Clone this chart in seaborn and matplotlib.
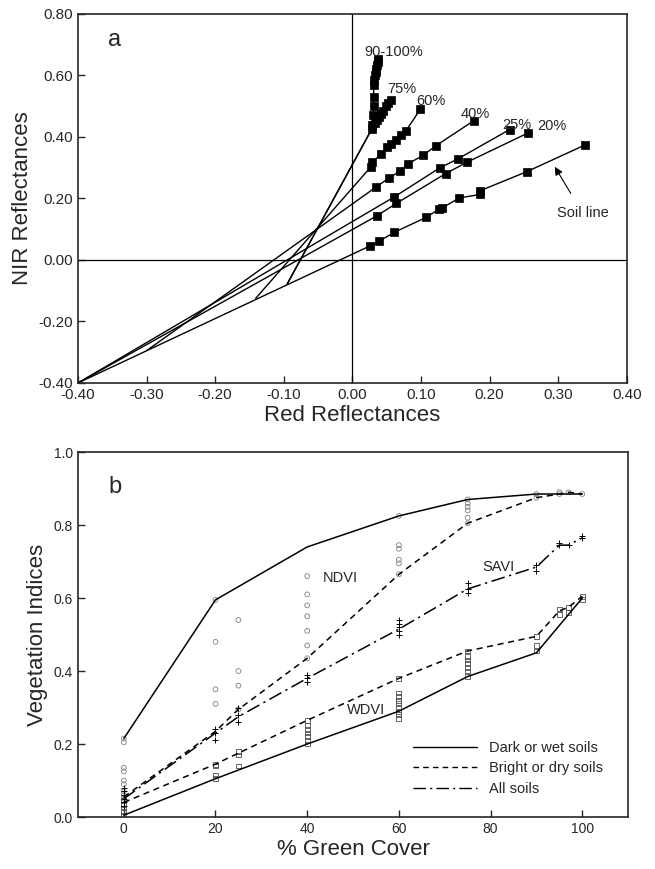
import matplotlib
matplotlib.use("Agg")
import matplotlib.pyplot as plt
from matplotlib.lines import Line2D
from matplotlib.ticker import FormatStrFormatter
import seaborn as sns

# ---------------- panel a: red vs NIR reflectance per green cover class
# each class: line starts where it meets the (extended) soil line
start_red = {"90-100%": -0.095, "75%": -0.095, "60%": -0.141, "40%": -0.300,
             "25%": -0.400, "20%": -0.400, "soil": -0.400}
start_nir = {"90-100%": -0.078, "75%": -0.078, "60%": -0.125, "40%": -0.295,
             "25%": -0.400, "20%": -0.400, "soil": -0.400}

red_90 = [0.028, 0.029, 0.030, 0.031, 0.031, 0.031, 0.032, 0.033, 0.034, 0.035, 0.036, 0.037, 0.038]
nir_90 = [0.425, 0.440, 0.470, 0.500, 0.530, 0.570, 0.585, 0.600, 0.610, 0.620, 0.635, 0.645, 0.655]

red_75 = [0.033, 0.036, 0.039, 0.042, 0.045, 0.049, 0.052, 0.056]
nir_75 = [0.445, 0.455, 0.465, 0.475, 0.485, 0.500, 0.510, 0.520]

red_60 = [0.027, 0.029, 0.042, 0.051, 0.056, 0.064, 0.071, 0.078, 0.099]
nir_60 = [0.303, 0.318, 0.345, 0.367, 0.377, 0.390, 0.406, 0.420, 0.490]

red_40 = [0.035, 0.054, 0.069, 0.081, 0.103, 0.122, 0.177]
nir_40 = [0.238, 0.268, 0.288, 0.313, 0.340, 0.372, 0.453]

red_25 = [0.061, 0.127, 0.154, 0.229]
nir_25 = [0.205, 0.299, 0.329, 0.424]

red_20 = [0.036, 0.064, 0.136, 0.167, 0.256]
nir_20 = [0.144, 0.184, 0.281, 0.318, 0.413]

red_soil = [0.025, 0.039, 0.061, 0.108, 0.126, 0.130, 0.156, 0.186, 0.186, 0.254, 0.339]
nir_soil = [0.045, 0.061, 0.090, 0.139, 0.165, 0.168, 0.202, 0.213, 0.225, 0.287, 0.374]

classes = {
    "90-100%": (red_90, nir_90),
    "75%": (red_75, nir_75),
    "60%": (red_60, nir_60),
    "40%": (red_40, nir_40),
    "25%": (red_25, nir_25),
    "20%": (red_20, nir_20),
    "soil": (red_soil, nir_soil),
}

# label anchors (left, middle) for the cover classes
class_labels = ["90-100%", "75%", "60%", "40%", "25%", "20%"]
label_red = [0.018, 0.051, 0.093, 0.158, 0.218, 0.269]
label_nir = [0.677, 0.555, 0.516, 0.474, 0.439, 0.435]

# ---------------- panel b: vegetation indices vs % green cover
cover_dark = [0, 20, 40, 60, 75, 90, 100]
ndvi_dark = [0.215, 0.595, 0.740, 0.825, 0.870, 0.885, 0.885]
wdvi_dark = [0.005, 0.105, 0.200, 0.290, 0.385, 0.450, 0.600]

cover_all = [0, 20, 25, 40, 60, 75, 90, 95, 97, 100]
ndvi_bright = [0.055, 0.235, 0.295, 0.435, 0.665, 0.805, 0.875, 0.885, 0.890, 0.885]
wdvi_bright = [0.040, 0.145, 0.175, 0.265, 0.380, 0.455, 0.495, 0.565, 0.575, 0.605]
savi_all = [0.050, 0.230, 0.275, 0.380, 0.515, 0.625, 0.685, 0.745, 0.745, 0.765]

# individual soil observations
ndvi_obs_x = [0, 0, 0, 0, 0, 0, 0, 0, 0, 20, 20, 20, 20, 25, 25, 25, 25,
              40, 40, 40, 40, 40, 40, 40, 60, 60, 60, 60, 60, 60,
              75, 75, 75, 75, 75, 75, 90, 90, 95, 95, 97, 100]
ndvi_obs_y = [0.215, 0.205, 0.135, 0.125, 0.100, 0.090, 0.070, 0.060, 0.050,
              0.595, 0.480, 0.350, 0.310, 0.540, 0.400, 0.360, 0.295,
              0.660, 0.610, 0.580, 0.550, 0.510, 0.470, 0.435,
              0.825, 0.745, 0.735, 0.705, 0.695, 0.665,
              0.870, 0.860, 0.850, 0.840, 0.820, 0.805, 0.885, 0.875, 0.890, 0.885, 0.890, 0.885]

savi_obs_x = [0, 0, 0, 0, 0, 0, 20, 20, 20, 25, 25, 25, 40, 40, 40,
              60, 60, 60, 60, 60, 75, 75, 75, 90, 90, 95, 95, 97, 100, 100]
savi_obs_y = [0.030, 0.040, 0.050, 0.060, 0.070, 0.080, 0.210, 0.230, 0.240,
              0.260, 0.280, 0.300, 0.370, 0.380, 0.390,
              0.500, 0.510, 0.520, 0.530, 0.540, 0.615, 0.625, 0.640,
              0.675, 0.690, 0.745, 0.750, 0.745, 0.765, 0.770]

wdvi_obs_x = [0, 0, 0, 0, 0, 20, 20, 20, 20, 25, 25, 25,
              40, 40, 40, 40, 40, 40, 40, 60, 60, 60, 60, 60, 60, 60, 60, 60,
              75, 75, 75, 75, 75, 75, 75, 90, 90, 90, 95, 95, 97, 97, 100, 100]
wdvi_obs_y = [0.005, 0.015, 0.025, 0.035, 0.045, 0.105, 0.115, 0.140, 0.145,
              0.140, 0.170, 0.180,
              0.200, 0.210, 0.220, 0.230, 0.240, 0.250, 0.265,
              0.270, 0.280, 0.290, 0.300, 0.310, 0.320, 0.330, 0.340, 0.380,
              0.385, 0.400, 0.410, 0.420, 0.430, 0.440, 0.455,
              0.455, 0.470, 0.495, 0.555, 0.570, 0.560, 0.575, 0.595, 0.605]

legend_labels = ["Dark or wet soils", "Bright or dry soils", "All soils"]

sns.set_style("ticks")
plt.rcParams["font.family"] = ["Liberation Sans", "DejaVu Sans"]

SOLID = "-"
DASHED = (0, (4, 3))
DASHDOT = (0, (9, 3, 1.5, 3))

fig = plt.figure(figsize=(6.55, 8.69), dpi=100)
ax_a = fig.add_axes([0.119, 0.5593, 0.838, 0.4246])
ax_b = fig.add_axes([0.119, 0.0598, 0.840, 0.420])

# ---- panel a
ax_a.axhline(0, color="black", lw=0.9)
ax_a.axvline(0, color="black", lw=0.9)
for key, (red, nir) in classes.items():
    xs = [start_red[key]] + red
    ys = [start_nir[key]] + nir
    sns.lineplot(x=xs, y=ys, sort=False, estimator=None, color="black",
                 lw=1.0, ax=ax_a)
    sns.scatterplot(x=red, y=nir, marker="s", s=26, color="black",
                    edgecolor="black", linewidth=0.5, ax=ax_a, zorder=3)

for lab, lx, ly in zip(class_labels, label_red, label_nir):
    ax_a.text(lx, ly, lab, fontsize=10.5, ha="left", va="center")
ax_a.annotate("Soil line", xy=(0.295, 0.303), xytext=(0.298, 0.152),
              fontsize=10.5, ha="left", va="center",
              arrowprops=dict(arrowstyle="-|>", color="black", lw=0.8,
                              shrinkA=8, shrinkB=0, mutation_scale=12))
ax_a.text(-0.356, 0.716, "a", fontsize=17, ha="left", va="center")

ax_a.set_xlim(-0.40, 0.40)
ax_a.set_ylim(-0.40, 0.80)
ax_a.set_xticks([-0.4, -0.3, -0.2, -0.1, 0.0, 0.1, 0.2, 0.3, 0.4])
ax_a.set_yticks([-0.4, -0.2, 0.0, 0.2, 0.4, 0.6, 0.8])
ax_a.xaxis.set_major_formatter(FormatStrFormatter("%.2f"))
ax_a.yaxis.set_major_formatter(FormatStrFormatter("%.2f"))
ax_a.set_xlabel("Red Reflectances", fontsize=16, labelpad=2)
ax_a.set_ylabel("NIR Reflectances", fontsize=16, labelpad=4)

# ---- panel b
sns.scatterplot(x=ndvi_obs_x, y=ndvi_obs_y, marker="o", s=12, facecolors="none",
                edgecolor="0.5", linewidth=0.6, ax=ax_b)
sns.scatterplot(x=wdvi_obs_x, y=wdvi_obs_y, marker="s", s=12, facecolors="none",
                edgecolor="0.3", linewidth=0.6, ax=ax_b)
sns.scatterplot(x=savi_obs_x, y=savi_obs_y, marker="+", s=14, color="black",
                linewidth=0.7, ax=ax_b)

sns.lineplot(x=cover_dark, y=ndvi_dark, estimator=None, color="black", lw=1.1,
             linestyle=SOLID, ax=ax_b)
sns.lineplot(x=cover_dark, y=wdvi_dark, estimator=None, color="black", lw=1.1,
             linestyle=SOLID, ax=ax_b)
sns.lineplot(x=cover_all, y=ndvi_bright, estimator=None, color="black", lw=1.1,
             linestyle=DASHED, ax=ax_b)
sns.lineplot(x=cover_all, y=wdvi_bright, estimator=None, color="black", lw=1.1,
             linestyle=DASHED, ax=ax_b)
sns.lineplot(x=cover_all, y=savi_all, estimator=None, color="black", lw=1.1,
             linestyle=DASHDOT, ax=ax_b)

ax_b.text(43.5, 0.655, "NDVI", fontsize=10.5, ha="left", va="center")
ax_b.text(78.3, 0.685, "SAVI", fontsize=10.5, ha="left", va="center")
ax_b.text(48.7, 0.293, "WDVI", fontsize=10.5, ha="left", va="center")
ax_b.text(-3.3, 0.904, "b", fontsize=17, ha="left", va="center")

handles = [Line2D([], [], color="black", lw=1.0, linestyle=s)
           for s in (SOLID, DASHED, DASHDOT)]
ax_b.legend(handles, legend_labels, loc="upper left", bbox_to_anchor=(0.585, 0.245),
            frameon=False, fontsize=10.5, handlelength=4.4, handletextpad=0.8,
            labelspacing=0.45)

ax_b.set_xlim(-10, 110)
ax_b.set_ylim(0, 1.0)
ax_b.set_xticks([0, 20, 40, 60, 80, 100])
ax_b.set_yticks([0.0, 0.2, 0.4, 0.6, 0.8, 1.0])
ax_b.yaxis.set_major_formatter(FormatStrFormatter("%.1f"))
ax_b.set_xlabel("% Green Cover", fontsize=16, labelpad=2)
ax_b.set_ylabel("Vegetation Indices", fontsize=16, labelpad=4)

for ax, fs in ((ax_a, 11), (ax_b, 10)):
    for side in ("top", "right", "left", "bottom"):
        ax.spines[side].set_visible(True)
        ax.spines[side].set_linewidth(1.2)
    ax.tick_params(direction="in", length=5, width=1, labelsize=fs,
                   top=False, right=False)
    ax.grid(False)

fig.savefig("out.png", dpi=100)
